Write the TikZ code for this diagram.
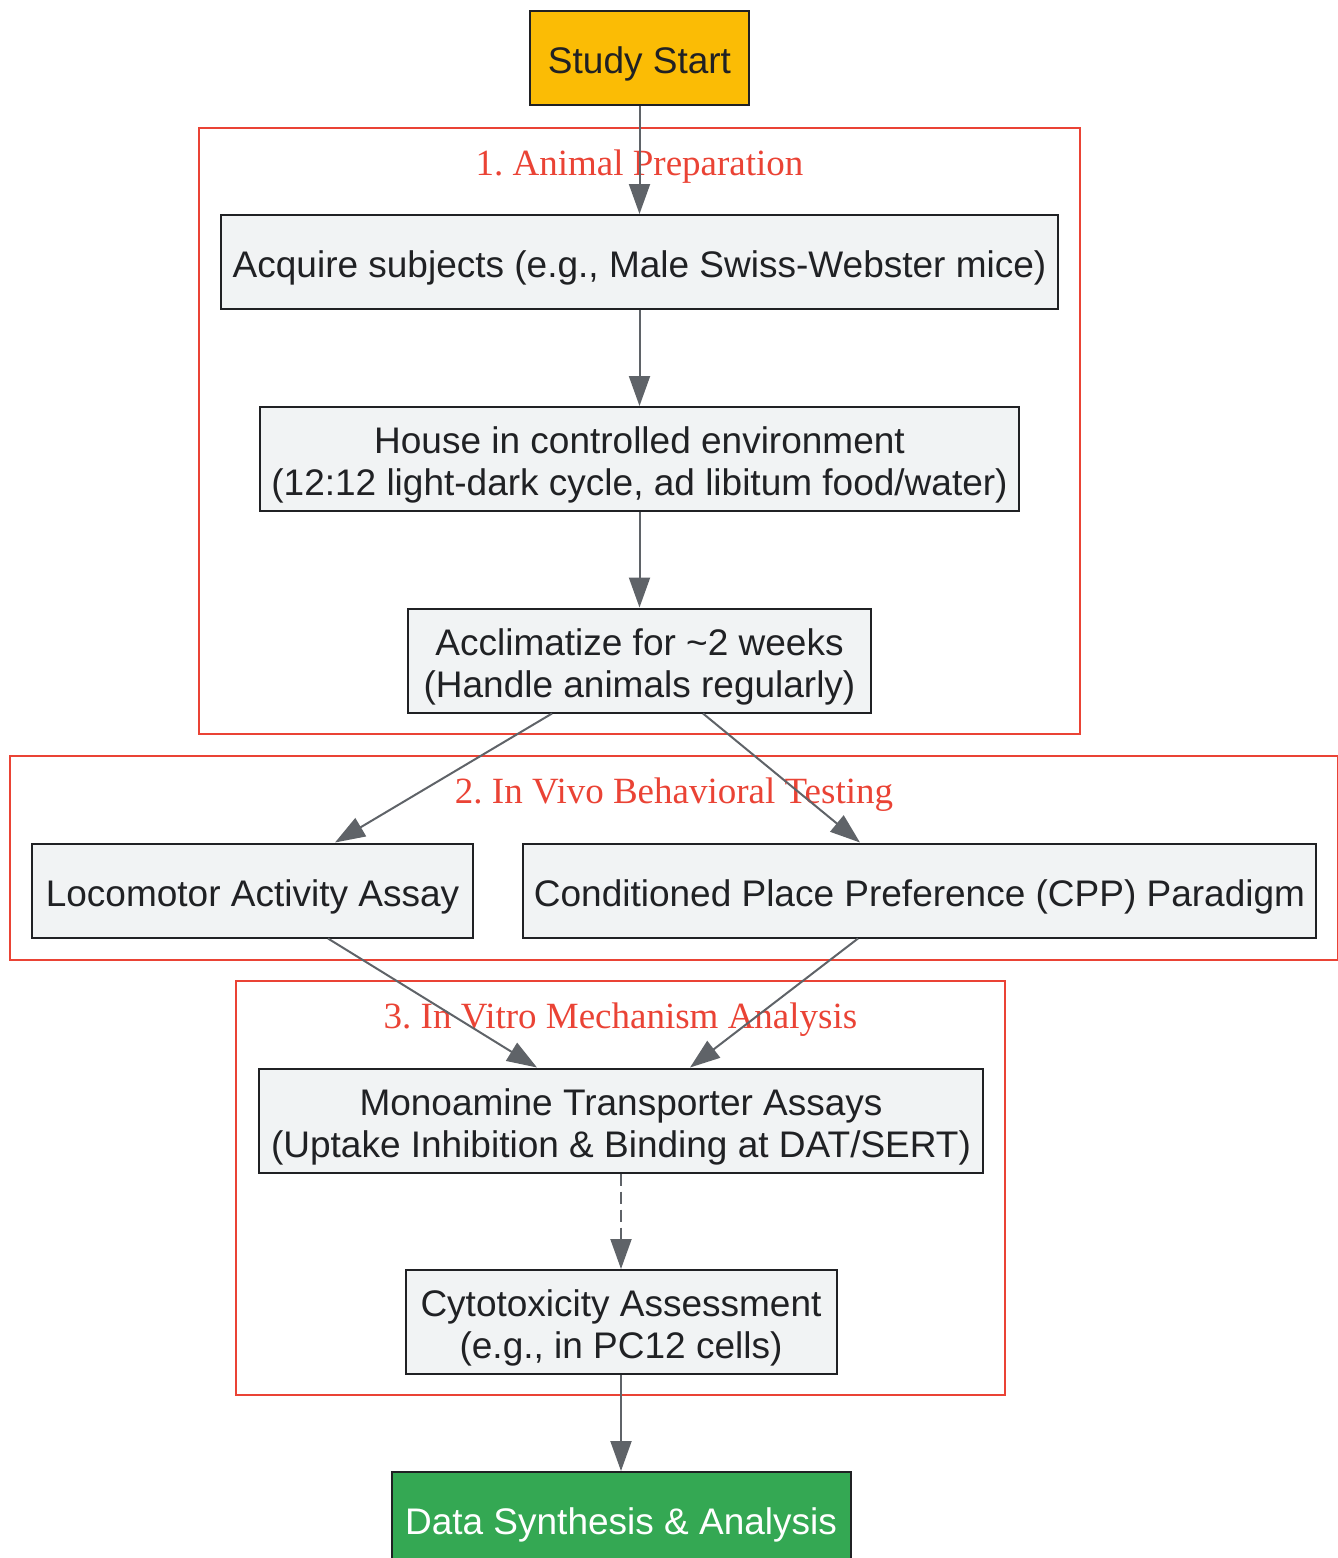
\documentclass[tikz,border=0pt]{standalone}
\usepackage{fontspec}
\setmainfont{Liberation Sans}
\newfontfamily\clusterfont{Liberation Serif}
\usepackage{tikz}
\usetikzlibrary{shapes,arrows.meta,positioning}

\definecolor{startyellow}{HTML}{FBBC05}
\definecolor{endgreen}{HTML}{34A853}
\definecolor{nodefill}{HTML}{F1F3F4}
\definecolor{nodeborder}{HTML}{202124}
\definecolor{edgegray}{HTML}{5F6368}
\definecolor{clusterred}{HTML}{EA4335}

\newcommand{\nodestrut}{\rule{0pt}{39pt}}

\begin{document}
\begin{tikzpicture}[
    x=1pt, y=-1pt,
    node distance=200pt,
    block/.style={rectangle, draw=nodeborder, fill=nodefill, line width=2pt, text=nodeborder, align=center, minimum height=94pt, inner xsep=9pt, font=\fontsize{37}{42}\selectfont},
    startbox/.style={block, fill=startyellow},
    endbox/.style={block, fill=endgreen, text=white},
    cluster/.style={draw=clusterred, line width=2pt},
    clusterlabel/.style={text=clusterred, anchor=base, font=\clusterfont\fontsize{37}{42}\selectfont\frenchspacing},
    arrow/.style={->, >={Triangle[length=30pt,width=21pt]}, draw=edgegray, line width=2pt}
]
\useasboundingbox (0,0) rectangle (1338,1558);

% Clusters
\draw [cluster] (199,128) rectangle (1080,734);
\draw [cluster] (10,756) rectangle (1338,960);
\draw [cluster] (236,981) rectangle (1005,1395);
\node [clusterlabel] (prepLabel) at (639.5,175) {1. Animal Preparation};
\node [clusterlabel] (vivoLabel) at (674,803) {2. In Vivo Behavioral Testing};
\node [clusterlabel] (vitroLabel) at (620.5,1028) {3. In Vitro Mechanism Analysis};

% Nodes
\node [startbox, minimum width=219pt] (start) at (639.5,58) {\nodestrut Study Start};
\node [block, below of=start, node distance=204pt, minimum width=837pt] (acquire) {\nodestrut Acquire subjects (e.g., Male Swiss-Webster mice)};
\node [block, below of=acquire, node distance=197pt, minimum width=759pt, minimum height=104pt] (house) {\nodestrut House in controlled environment\\(12:12 light-dark cycle, ad libitum food/water)};
\node [block, below of=house, node distance=201.5pt, minimum width=463pt, minimum height=104pt] (acclim) {\nodestrut Acclimatize for \textasciitilde 2 weeks\\(Handle animals regularly)};
\node [block, minimum width=441pt] (locomotor) at (252.5,890.5) {\nodestrut Locomotor Activity Assay};
\node [block, minimum width=793pt] (cpp) at (919.5,890.5) {\nodestrut Conditioned Place Preference (CPP) Paradigm};
\node [block, minimum width=724pt, minimum height=104pt] (monoamine) at (621,1120.5) {\nodestrut Monoamine Transporter Assays\\(Uptake Inhibition \& Binding at DAT/SERT)};
\node [block, below of=monoamine, node distance=201.5pt, minimum width=431pt, minimum height=104pt] (cytotox) {\nodestrut Cytotoxicity Assessment\\(e.g., in PC12 cells)};
\node [endbox, below of=cytotox, node distance=197pt, minimum width=459pt] (synthesis) {\nodestrut Data Synthesis \& Analysis};

% Arrows
\draw [arrow] (start) -- (acquire);
\draw [arrow] (acquire) -- (house);
\draw [arrow] (house) -- (acclim);
\draw [arrow] ([xshift=-87.5pt]acclim.south) -- ([xshift=82.5pt]locomotor.north);
\draw [arrow] ([xshift=63.5pt]acclim.south) -- ([xshift=-59.5pt]cpp.north);
\draw [arrow] ([xshift=75.5pt]locomotor.south) -- ([xshift=-84pt]monoamine.north);
\draw [arrow] ([xshift=-61.5pt]cpp.south) -- ([xshift=69pt]monoamine.north);
\draw [arrow, dash pattern=on 12pt off 6pt] (monoamine) -- (cytotox);
\draw [arrow] (cytotox) -- (synthesis);

\end{tikzpicture}
\end{document}
